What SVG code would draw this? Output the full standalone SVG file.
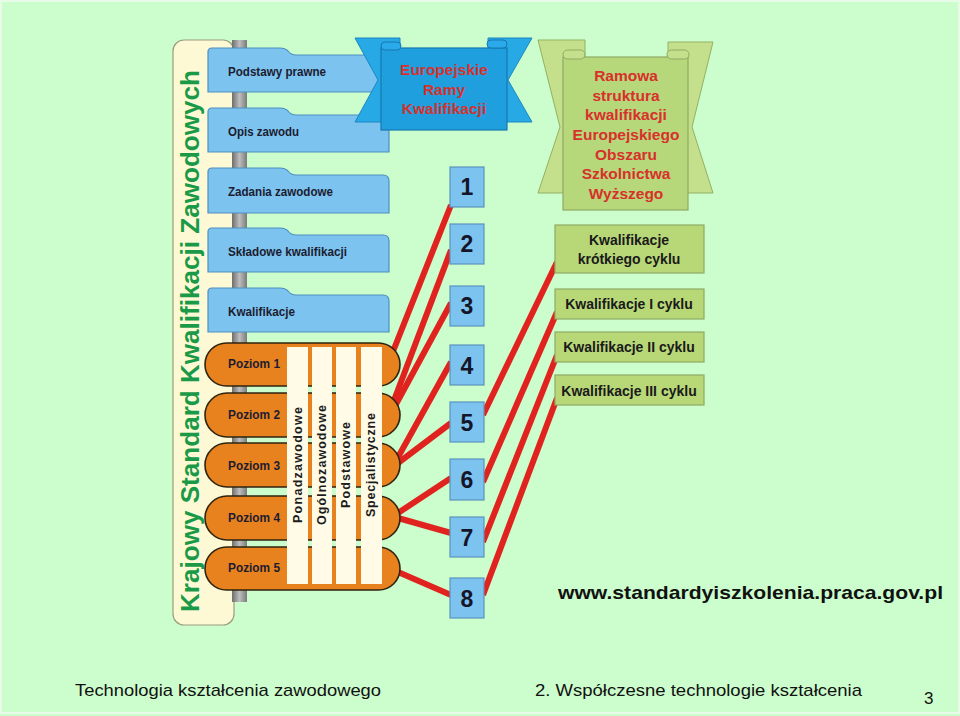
<svg xmlns="http://www.w3.org/2000/svg" width="960" height="716" viewBox="0 0 960 716">
<defs>
<style>
.tab{fill:#7cc3ef;stroke:#4f8fbf;stroke-width:1.2}
.tabt{font-family:"Liberation Sans",Arial,sans-serif;font-weight:bold;font-size:13px;fill:#1c1c30}
.ov{fill:#e8821f;stroke:#2e2410;stroke-width:1.6}
.col{fill:#fffbe6}
.colt{font-family:"Liberation Sans",Arial,sans-serif;font-weight:bold;font-size:12.5px;fill:#1c1c1c}
.num{fill:#7cc3ef;stroke:#5b93bb;stroke-width:1.2}
.numt{font-family:"Liberation Sans",Arial,sans-serif;font-weight:bold;font-size:23px;fill:#15152a;text-anchor:middle}
.gbox{fill:#b8d878;stroke:#8eab62;stroke-width:1.2}
.gt{font-family:"Liberation Sans",Arial,sans-serif;font-weight:bold;font-size:14px;fill:#1a1a1a;text-anchor:middle}
.rt{font-family:"Liberation Sans",Arial,sans-serif;font-weight:bold;font-size:15.5px;fill:#d8302a;text-anchor:middle}
.foot{font-family:"Liberation Sans",Arial,sans-serif;font-size:17px;fill:#111}
.ln{stroke:#e0231f;stroke-width:6;stroke-linecap:butt;fill:none}
</style>
<linearGradient id="spine" x1="0" y1="0" x2="1" y2="0">
<stop offset="0" stop-color="#6e6e6e"/>
<stop offset="0.5" stop-color="#bdbdbd"/>
<stop offset="1" stop-color="#7a7a7a"/>
</linearGradient>
</defs>
<rect x="0" y="0" width="960" height="716" fill="#ccfdcc"/>
<rect x="1" y="1" width="958" height="712" fill="none" stroke="#e8fbe8" stroke-width="2"/>

<g id="ksk-panel">
<rect x="173" y="40" width="61" height="585" rx="11" fill="#fdf9d4" stroke="#9c9c80" stroke-width="1.2"/>
<rect x="232" y="40" width="15" height="562" fill="url(#spine)"/>
<text transform="translate(199,612) rotate(-90)" font-family="'Liberation Sans',Arial,sans-serif" font-weight="bold" font-size="25" fill="#1a9a48" textLength="542" lengthAdjust="spacingAndGlyphs">Krajowy Standard Kwalifikacji Zawodowych</text>
</g>

<g id="tab-podstawy">
<path class="tab" d="M208,92 L208,52 Q208,48 212,48 L280,48 Q285,48 288,51 Q291,55 296,55 L374,55 Q380,55 380,61 L380,92 Z"/>
<text class="tabt" x="228" y="76" textLength="98" lengthAdjust="spacingAndGlyphs">Podstawy prawne</text>
</g>
<g id="tab-opis">
<path class="tab" d="M208,152 L208,112 Q208,108 212,108 L280,108 Q285,108 288,111 Q291,115 296,115 L383,115 Q389,115 389,121 L389,152 Z"/>
<text class="tabt" x="228" y="136" textLength="71" lengthAdjust="spacingAndGlyphs">Opis zawodu</text>
</g>
<g id="tab-zadania">
<path class="tab" d="M208,213 L208,172 Q208,168 212,168 L280,168 Q285,168 288,171 Q291,175 296,175 L383,175 Q389,175 389,181 L389,213 Z"/>
<text class="tabt" x="228" y="196" textLength="105" lengthAdjust="spacingAndGlyphs">Zadania zawodowe</text>
</g>
<g id="tab-skladowe">
<path class="tab" d="M208,272 L208,232 Q208,228 212,228 L280,228 Q285,228 288,231 Q291,235 296,235 L383,235 Q389,235 389,241 L389,272 Z"/>
<text class="tabt" x="228" y="256" textLength="119" lengthAdjust="spacingAndGlyphs">Składowe kwalifikacji</text>
</g>
<g id="tab-kwalifikacje">
<path class="tab" d="M208,332 L208,292 Q208,288 212,288 L280,288 Q285,288 288,291 Q291,295 296,295 L383,295 Q389,295 389,301 L389,332 Z"/>
<text class="tabt" x="228" y="316" textLength="67" lengthAdjust="spacingAndGlyphs">Kwalifikacje</text>
</g>

<g id="erk-banner">
<path d="M355,38 L400,38 L400,122 L355,122 L378,80 Z" fill="#27a9e6" stroke="#1c86c0" stroke-width="1"/>
<path d="M532,38 L488,38 L488,122 L532,122 L508,80 Z" fill="#27a9e6" stroke="#1c86c0" stroke-width="1"/>
<rect x="381" y="48" width="126" height="82" fill="#1f9fde" stroke="#1778b0" stroke-width="1.2"/>
<rect x="381" y="42" width="20" height="8" rx="4" fill="#2aaaea" stroke="#1778b0" stroke-width="1"/>
<rect x="487" y="40" width="20" height="8" rx="4" fill="#2aaaea" stroke="#1778b0" stroke-width="1"/>
<text class="rt" x="444" y="75">Europejskie</text>
<text class="rt" x="444" y="95">Ramy</text>
<text class="rt" x="444" y="114">Kwalifikacji</text>
</g>

<g id="ehea-scroll">
<path d="M538,40 L585,40 L585,193 L538,193 L560,127 Z" fill="#c4e08c" stroke="#93b163" stroke-width="1"/>
<path d="M713,42 L668,42 L668,193 L713,193 L692,127 Z" fill="#c4e08c" stroke="#93b163" stroke-width="1"/>
<rect x="563" y="57" width="125" height="153" fill="#b6d77a" stroke="#8eab62" stroke-width="1.2"/>
<rect x="563" y="50" width="22" height="9" rx="4.5" fill="#c4e08c" stroke="#8eab62" stroke-width="1"/>
<rect x="667" y="50" width="22" height="9" rx="4.5" fill="#c4e08c" stroke="#8eab62" stroke-width="1"/>
<text class="rt" x="626" y="81">Ramowa</text>
<text class="rt" x="626" y="101">struktura</text>
<text class="rt" x="626" y="120">kwalifikacji</text>
<text class="rt" x="626" y="140">Europejskiego</text>
<text class="rt" x="626" y="160">Obszaru</text>
<text class="rt" x="626" y="179">Szkolnictwa</text>
<text class="rt" x="626" y="199">Wyższego</text>
</g>

<g id="connectors">
<line class="ln" x1="451" y1="205" x2="392" y2="354"/>
<line class="ln" x1="451" y1="250" x2="393" y2="403"/>
<line class="ln" x1="451" y1="303" x2="395" y2="406"/>
<line class="ln" x1="451" y1="362" x2="397" y2="459"/>
<line class="ln" x1="451" y1="423" x2="398" y2="463"/>
<line class="ln" x1="451" y1="478" x2="398" y2="513"/>
<line class="ln" x1="451" y1="533" x2="398" y2="518"/>
<line class="ln" x1="451" y1="595" x2="398" y2="572"/>
<line class="ln" x1="483" y1="415" x2="557" y2="262"/>
<line class="ln" x1="483" y1="482" x2="557" y2="312"/>
<line class="ln" x1="483" y1="542" x2="557" y2="355"/>
<line class="ln" x1="483" y1="595" x2="557" y2="398"/>
</g>

<g id="poziom-1"><rect class="ov" x="205" y="343" width="195" height="43" rx="21.5"/><text class="tabt" x="228" y="368" textLength="52" lengthAdjust="spacingAndGlyphs">Poziom 1</text></g>
<g id="poziom-2"><rect class="ov" x="205" y="393" width="195" height="44" rx="22"/><text class="tabt" x="228" y="419" textLength="52" lengthAdjust="spacingAndGlyphs">Poziom 2</text></g>
<g id="poziom-3"><rect class="ov" x="205" y="443" width="195" height="44" rx="22"/><text class="tabt" x="228" y="470" textLength="52" lengthAdjust="spacingAndGlyphs">Poziom 3</text></g>
<g id="poziom-4"><rect class="ov" x="205" y="496" width="195" height="44" rx="22"/><text class="tabt" x="228" y="522" textLength="52" lengthAdjust="spacingAndGlyphs">Poziom 4</text></g>
<g id="poziom-5"><rect class="ov" x="205" y="547" width="195" height="43" rx="21.5"/><text class="tabt" x="228" y="572" textLength="52" lengthAdjust="spacingAndGlyphs">Poziom 5</text></g>

<g id="col-ponadzawodowe"><rect class="col" x="287" y="347" width="21" height="237"/><text class="colt" transform="translate(302,523) rotate(-90)" textLength="116" lengthAdjust="spacing">Ponadzawodowe</text></g>
<g id="col-ogolnozawodowe"><rect class="col" x="312" y="347" width="20" height="237"/><text class="colt" transform="translate(326,525) rotate(-90)" textLength="120" lengthAdjust="spacing">Ogólnozawodowe</text></g>
<g id="col-podstawowe"><rect class="col" x="336" y="347" width="20" height="237"/><text class="colt" transform="translate(350,508) rotate(-90)" textLength="86" lengthAdjust="spacing">Podstawowe</text></g>
<g id="col-specjalistyczne"><rect class="col" x="361" y="347" width="21" height="237"/><text class="colt" transform="translate(375,517) rotate(-90)" textLength="104" lengthAdjust="spacing">Specjalistyczne</text></g>

<g id="num-1"><rect class="num" x="450" y="167" width="34" height="40"/><text class="numt" x="467" y="195">1</text></g>
<g id="num-2"><rect class="num" x="450" y="224" width="34" height="40"/><text class="numt" x="467" y="252">2</text></g>
<g id="num-3"><rect class="num" x="450" y="286" width="34" height="40"/><text class="numt" x="467" y="314">3</text></g>
<g id="num-4"><rect class="num" x="450" y="345" width="34" height="40"/><text class="numt" x="467" y="374">4</text></g>
<g id="num-5"><rect class="num" x="450" y="402" width="34" height="40"/><text class="numt" x="467" y="431">5</text></g>
<g id="num-6"><rect class="num" x="450" y="459" width="34" height="41"/><text class="numt" x="467" y="488">6</text></g>
<g id="num-7"><rect class="num" x="450" y="517" width="34" height="40"/><text class="numt" x="467" y="546">7</text></g>
<g id="num-8"><rect class="num" x="450" y="578" width="34" height="40"/><text class="numt" x="467" y="607">8</text></g>

<g id="kw-krotkiego"><rect class="gbox" x="555" y="225" width="149" height="48"/><text class="gt" x="629" y="245">Kwalifikacje</text><text class="gt" x="629" y="264">krótkiego cyklu</text></g>
<g id="kw-i"><rect class="gbox" x="555" y="289" width="149" height="30"/><text class="gt" x="629" y="309">Kwalifikacje I cyklu</text></g>
<g id="kw-ii"><rect class="gbox" x="555" y="332" width="149" height="30"/><text class="gt" x="629" y="352">Kwalifikacje II cyklu</text></g>
<g id="kw-iii"><rect class="gbox" x="555" y="375" width="149" height="30"/><text class="gt" x="629" y="396">Kwalifikacje III cyklu</text></g>

<text x="558" y="599" font-family="'Liberation Sans',Arial,sans-serif" font-weight="bold" font-size="19" fill="#111" textLength="385" lengthAdjust="spacingAndGlyphs">www.standardyiszkolenia.praca.gov.pl</text>
<text class="foot" x="75" y="696" textLength="306" lengthAdjust="spacingAndGlyphs">Technologia kształcenia zawodowego</text>
<text class="foot" x="535" y="696" textLength="327" lengthAdjust="spacingAndGlyphs">2. Współczesne technologie kształcenia</text>
<text class="foot" x="924" y="704">3</text>
</svg>
